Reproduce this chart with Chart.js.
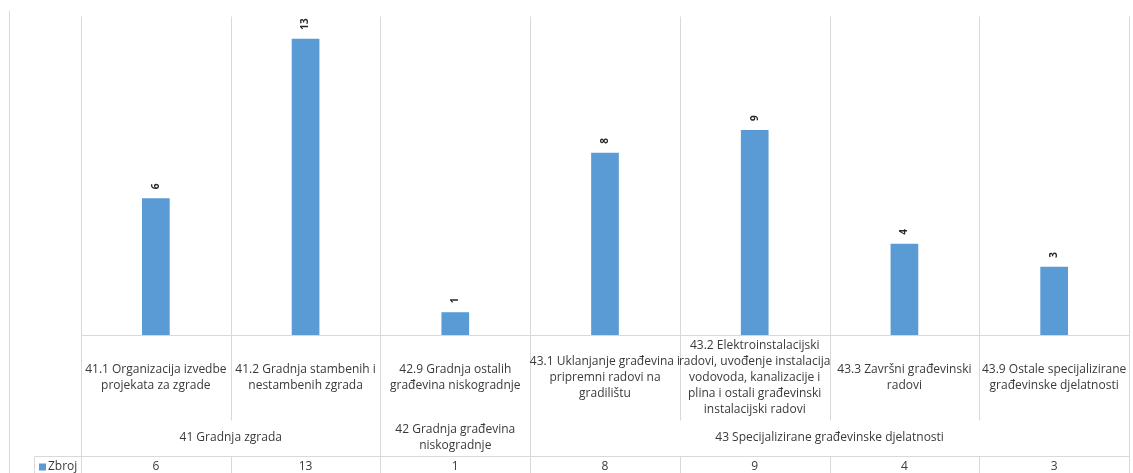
<!DOCTYPE html>
<html>
<head>
<meta charset="utf-8">
<script src="https://cdn.jsdelivr.net/npm/chart.js@4.4.1/dist/chart.umd.min.js"></script>
<style>
  html, body { margin: 0; padding: 0; background: #fff; }
  #wrap { width: 1133px; height: 473px; position: relative; }
</style>
</head>
<body>
<div id="wrap"><canvas id="chart"></canvas></div>
<script>
// sub-category labels (one entry per bar, split into lines)
const categories = [
  ['41.1 Organizacija izvedbe', 'projekata za zgrade'],
  ['41.2 Gradnja stambenih i', 'nestambenih zgrada'],
  ['42.9 Gradnja ostalih', 'građevina niskogradnje'],
  ['43.1 Uklanjanje građevina i', 'pripremni radovi na', 'gradilištu'],
  ['43.2 Elektroinstalacijski', 'radovi, uvođenje instalacija', 'vodovoda, kanalizacije i', 'plina i ostali građevinski', 'instalacijski radovi'],
  ['43.3 Završni građevinski', 'radovi'],
  ['43.9 Ostale specijalizirane', 'građevinske djelatnosti']
];
// parent groups and how many bars each one covers
const groups = [
  ['41 Gradnja zgrada'],
  ['42 Gradnja građevina', 'niskogradnje'],
  ['43 Specijalizirane građevinske djelatnosti']
];
const groupSizes = [2, 1, 4];
const seriesName = 'Zbroj';
const values = [6, 13, 1, 8, 9, 4, 3];

const BAR_COLOR = '#5B9BD5';
const LINE_COLOR = '#d9d9d9';
const TEXT_COLOR = '#3a3a3a';
const FONT = '"Open Sans", "Noto Sans", sans-serif';

// rows below the plot
const ROW1_BOTTOM = 420;
const ROW2_BOTTOM = 456;
const TABLE_LEFT = 34;
const OUTER_LEFT = 9;

const tablePlugin = {
  id: 'tablePlugin',
  afterDraw(chart) {
    const ctx = chart.ctx;
    const area = chart.chartArea;
    const xs = chart.scales.x;
    const h = chart.height;
    const w = xs.getPixelForValue(1) - xs.getPixelForValue(0);
    const edge = i => xs.getPixelForValue(0) - w / 2 + i * w;

    ctx.save();
    ctx.strokeStyle = LINE_COLOR;
    ctx.lineWidth = 1;

    const line = (x1, y1, x2, y2) => {
      ctx.beginPath();
      ctx.moveTo(Math.round(x1) + 0.5, Math.round(y1) + 0.5);
      ctx.lineTo(Math.round(x2) + 0.5, Math.round(y2) + 0.5);
      ctx.stroke();
    };

    // group boundaries run full height, others skip the group row
    const groupEdges = [0];
    groupSizes.reduce((acc, n) => { groupEdges.push(acc + n); return acc + n; }, 0);
    for (let i = 0; i <= categories.length; i++) {
      const x = edge(i);
      if (groupEdges.includes(i)) {
        line(x, area.top, x, h);
      } else {
        line(x, area.top, x, ROW1_BOTTOM);
        line(x, ROW2_BOTTOM, x, h);
      }
    }
    line(edge(0), area.bottom, edge(categories.length), area.bottom);
    line(TABLE_LEFT, ROW2_BOTTOM, edge(categories.length), ROW2_BOTTOM);
    line(TABLE_LEFT, ROW2_BOTTOM, TABLE_LEFT, h);
    line(OUTER_LEFT, 10, OUTER_LEFT, h);

    ctx.fillStyle = TEXT_COLOR;
    ctx.font = '12px ' + FONT;
    ctx.textAlign = 'center';
    ctx.textBaseline = 'middle';
    const LH = 16;

    const drawLines = (lines, cx, cy) => {
      const y0 = cy - (lines.length - 1) * LH / 2;
      lines.forEach((t, k) => ctx.fillText(t, cx, y0 + k * LH));
    };

    categories.forEach((lines, i) => {
      drawLines(lines, xs.getPixelForValue(i), (area.bottom + ROW1_BOTTOM) / 2);
    });

    let start = 0;
    groups.forEach((lines, g) => {
      const cx = (edge(start) + edge(start + groupSizes[g])) / 2;
      drawLines(lines, cx, (ROW1_BOTTOM + ROW2_BOTTOM) / 2);
      start += groupSizes[g];
    });

    const rowY = (ROW2_BOTTOM + h) / 2 + 2;
    values.forEach((v, i) => ctx.fillText(String(v), xs.getPixelForValue(i), rowY));

    // legend key + series name
    ctx.fillStyle = BAR_COLOR;
    ctx.fillRect(39, rowY - 3, 7, 7);
    ctx.fillStyle = TEXT_COLOR;
    ctx.textAlign = 'left';
    ctx.fillText(seriesName, 48, rowY);

    // value labels above bars, reading bottom to top
    const meta = chart.getDatasetMeta(0);
    ctx.font = 'bold 10px ' + FONT;
    ctx.fillStyle = '#262626';
    meta.data.forEach((bar, i) => {
      ctx.save();
      ctx.translate(bar.x, bar.y - 9);
      ctx.rotate(-Math.PI / 2);
      ctx.textAlign = 'left';
      ctx.textBaseline = 'middle';
      ctx.fillText(String(values[i]), 0, 0);
      ctx.restore();
    });

    ctx.restore();
  }
};

new Chart(document.getElementById('chart'), {
  type: 'bar',
  data: {
    labels: categories.map(c => c.join(' ')),
    datasets: [{
      label: seriesName,
      data: values,
      backgroundColor: BAR_COLOR,
      barPercentage: 0.185,
      categoryPercentage: 1
    }]
  },
  options: {
    responsive: true,
    maintainAspectRatio: false,
    animation: false,
    layout: { padding: { left: 81, right: 4, top: 16, bottom: 138 } },
    plugins: { legend: { display: false }, tooltip: { enabled: false } },
    scales: {
      x: {
        display: true,
        grid: { display: false, drawTicks: false },
        border: { display: false },
        ticks: { display: false }
      },
      y: { display: false, min: 0, max: 14 }
    }
  },
  plugins: [tablePlugin]
});
</script>
</body>
</html>
